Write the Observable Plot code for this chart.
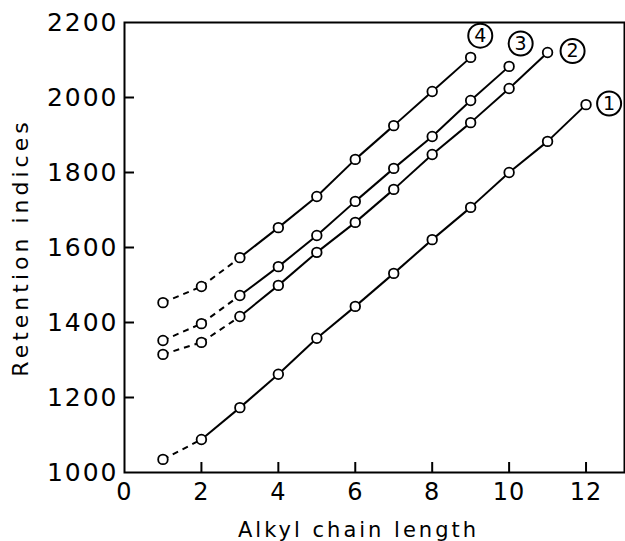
<!DOCTYPE html>
<html>
<head>
<meta charset="utf-8">
<script src="https://cdn.jsdelivr.net/npm/d3@7"></script>
<script src="https://cdn.jsdelivr.net/npm/@observablehq/plot@0.6"></script>
<style>
  html, body { margin: 0; padding: 0; background: #fff; }
  svg { display: block; }
</style>
</head>
<body>
<div id="chart"></div>
<script>
const chainLength = [1, 2, 3, 4, 5, 6, 7, 8, 9, 10, 11, 12];
const series1 = [1035, 1088, 1173, 1262, 1358, 1443, 1531, 1621, 1707, 1800, 1883, 1981];
const series2 = [1315, 1347, 1416, 1499, 1587, 1667, 1755, 1848, 1933, 2024, 2120];
const series3 = [1352, 1397, 1472, 1549, 1632, 1723, 1811, 1896, 1992, 2083];
const series4 = [1453, 1496, 1573, 1653, 1736, 1835, 1925, 2016, 2107];
const seriesNames = ["1", "2", "3", "4"];
const dashedSegmentCount = [1, 2, 2, 2];
const labelX = [12.6, 11.65, 10.3, 9.25];
const labelY = [1984, 2124, 2144, 2165];
const xTicks = [0, 2, 4, 6, 8, 10, 12];
const yTicks = [1000, 1200, 1400, 1600, 1800, 2000, 2200];

const allSeries = [series1, series2, series3, series4];
const points = [];
const segments = [];
allSeries.forEach((vals, si) => {
  vals.forEach((v, i) => {
    points.push({series: seriesNames[si], x: chainLength[i], y: v});
    if (i > 0) {
      segments.push({
        series: seriesNames[si],
        x1: chainLength[i - 1], y1: vals[i - 1],
        x2: chainLength[i], y2: v,
        dashed: i <= dashedSegmentCount[si]
      });
    }
  });
});
const labels = seriesNames.map((n, i) => ({name: n, x: labelX[i], y: labelY[i]}));

const chart = Plot.plot({
  width: 625,
  height: 541,
  marginLeft: 124,
  marginRight: 1,
  marginTop: 22,
  marginBottom: 69,
  style: {fontFamily: "DejaVu Sans", color: "#000", background: "#fff"},
  x: {domain: [0, 13]},
  y: {domain: [1000, 2200]},
  marks: [
    Plot.frame({stroke: "#000", strokeWidth: 2}),
    // inward tick marks
    Plot.axisX({ticks: xTicks.filter(d => d > 0), tickSize: 10, dy: -10, strokeWidth: 2, text: null, label: null}),
    Plot.axisY({ticks: yTicks.filter(d => d > 1000 && d < 2200), tickSize: 10, dx: 10, strokeWidth: 2, text: null, label: null}),
    // tick labels & axis titles
    Plot.axisX({
      ticks: xTicks, tickSize: 0, tickPadding: 10,
      fontSize: 24, tickFormat: d => String(d),
      label: "Alkyl chain length", labelAnchor: "center", labelArrow: false, labelOffset: 64
    }),
    Plot.axisY({
      ticks: yTicks, tickSize: 0, tickPadding: 6,
      fontSize: 25, tickFormat: d => String(d),
      label: "Retention indices", labelAnchor: "center", labelArrow: false, labelOffset: 112
    }),
    Plot.link(segments.filter(d => !d.dashed), {
      x1: "x1", y1: "y1", x2: "x2", y2: "y2", stroke: "#000", strokeWidth: 2
    }),
    Plot.link(segments.filter(d => d.dashed), {
      x1: "x1", y1: "y1", x2: "x2", y2: "y2", stroke: "#000", strokeWidth: 2,
      strokeDasharray: "6,5"
    }),
    Plot.dot(points, {x: "x", y: "y", r: 4.8, fill: "#fff", stroke: "#000", strokeWidth: 1.8}),
    Plot.dot(labels, {x: "x", y: "y", r: 12, fill: "#fff", stroke: "#000", strokeWidth: 2}),
    Plot.text(labels, {x: "x", y: "y", text: "name", fontSize: 19, fill: "#000"})
  ]
});

chart.querySelectorAll("[aria-label='y-axis tick label'] text").forEach(t => {
  t.style.letterSpacing = "2px";
});
chart.querySelectorAll("[aria-label='x-axis tick label'] text").forEach(t => {
  t.style.letterSpacing = "1px";
});
chart.querySelectorAll("[aria-label='x-axis label'] text").forEach(t => {
  t.setAttribute("font-size", "21");
  t.style.letterSpacing = "3px";
  t.setAttribute("dx", "-16");
});
chart.querySelectorAll("[aria-label='y-axis label'] text").forEach(t => {
  t.setAttribute("font-size", "22");
  t.style.letterSpacing = "4px";
});
document.getElementById("chart").appendChild(chart);
</script>
</body>
</html>
